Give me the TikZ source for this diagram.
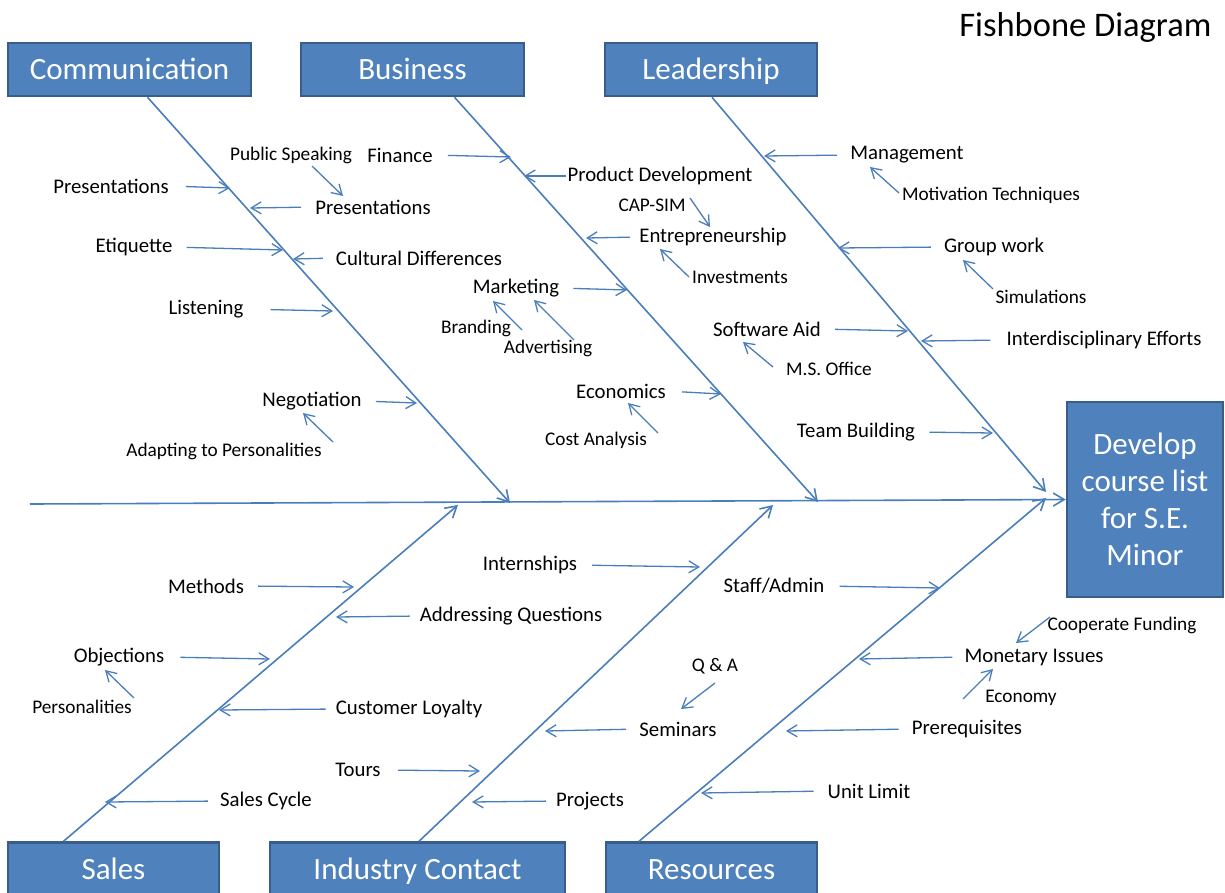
\documentclass[tikz,border=0pt]{standalone}
\usepackage{fontspec}
\setmainfont{Carlito}
\usetikzlibrary{arrows.meta,calc}
\definecolor{boxfill}{RGB}{79,129,189}
\definecolor{boxline}{RGB}{56,93,138}
\definecolor{boneline}{RGB}{74,126,187}

\begin{document}
\begin{tikzpicture}[x=1pt,y=-1pt,
  cat/.style={draw=boxline,line width=2.5pt,fill=boxfill,text=white,
    font=\fontsize{31}{37}\selectfont,minimum height=53pt,inner sep=0pt},
  catlbl/.style={cat,text height=24pt,text depth=4pt},
  lbl/.style={font=\fontsize{20.8}{25}\selectfont,inner sep=0pt},
  sub/.style={font=\fontsize{19.3}{23}\selectfont,inner sep=0pt},
  bone/.style={draw=boneline,line width=1.6pt,-{Straight Barb[length=11pt,width=13pt]}},
  twig/.style={draw=boneline,line width=1.3pt,-{Straight Barb[length=10pt,width=12pt]}}]
  \useasboundingbox (0,0) rectangle (1225,892);

  % Title
  \node[font=\fontsize{34.5}{40}\selectfont,anchor=east] (title) at (1215,27) {Fishbone Diagram};

  % Category boxes
  \node[catlbl,minimum width=243pt] (comm) at (129.5,69.5) {Communication};
  \node[catlbl,minimum width=223pt] (bus) at (412.5,69.5) {Business};
  \node[catlbl,minimum width=212pt] (lead) at (711,69.5) {Leadership};
  \node[catlbl,minimum width=211pt] (sales) at (113.5,869) {Sales};
  \node[catlbl,minimum width=295pt] (ind) at (417.5,869) {Industry Contact};
  \node[catlbl,minimum width=211pt] (res) at (711.5,869) {Resources};

  % Effect
  \node[cat,minimum width=156pt,minimum height=195pt,align=center] (effect) at (1145,499.5)
    {Develop\\course list\\for S.E.\\Minor};

  % Spine and bones
  \coordinate (tail) at (30,504);
  \draw[bone] (tail) -- (effect.west);
  \coordinate (commtip) at (510,503);
  \coordinate (bustip) at (818,502);
  \coordinate (leadtip) at (1046,492);
  \coordinate (salestip) at (458,505);
  \coordinate (indtip) at (773,505);
  \coordinate (restip) at (1046,498);
  \draw[bone] ($(comm.south)+(18,0)$) -- (commtip);
  \draw[bone] ($(bus.south)+(42,0)$) -- (bustip);
  \draw[bone] ($(lead.south)+(1,0)$) -- (leadtip);
  \draw[bone] ($(sales.north)+(-50,0)$) -- (salestip);
  \draw[bone] ($(ind.north)+(1.5,0)$) -- (indtip);
  \draw[bone] ($(res.north)+(-72.5,0)$) -- (restip);

  % Causes
  \foreach \n/\txt/\x/\y in {presA/Presentations/111/186, presB/Presentations/373/207,
      etiq/Etiquette/134/247, cult/Cultural Differences/419/258, listen/Listening/206/309,
      negot/Negotiation/312/401, fin/Finance/400/155, prod/Product Development/660/176,
      entre/Entrepreneurship/713/237, mark/Marketing/516/288, econ/Economics/621/391,
      mgmt/Management/907/155, group/Group work/994/247, soft/Software Aid/767/329,
      inter/Interdisciplinary Efforts/1104/340, team/Team Building/856/432,
      meth/Methods/206/586, addr/Addressing Questions/511/616, objc/Objections/119/657,
      loyal/Customer Loyalty/409/709, cycle/Sales Cycle/266/801, intern/Internships/530/565,
      semin/Seminars/678/729, tours/Tours/358/770, proj/Projects/590/801,
      monet/Monetary Issues/1034/657, prereq/Prerequisites/967/729, unit/Unit Limit/869/791}
    \node[lbl] (\n) at (\x,\y) {\txt};
  \node[lbl] (staff) at (774,586) {Staff/Admin};

  % Sub-causes
  \foreach \n/\txt/\x/\y in {pubsp/Public Speaking/291/155, adapt/Adapting to Personalities/224/451,
      capsim/CAP-SIM/652/205, invest/Investments/740/277, brand/Branding/476/328,
      advert/Advertising/548/348, cost/Cost Analysis/596/440, motiv/Motivation Techniques/991/195,
      simul/Simulations/1041/297, msoff/M.S. Office/829/369, persn/Personalities/82/707,
      qanda/Q \& A/715/666, coopf/Cooperate Funding/1122/625, econy/Economy/1021/698}
    \node[sub] (\n) at (\x,\y) {\txt};

  % Arrows into the bones
  \foreach \n/\s/\x/\y/\g in {presA/east/230/188/17, presB/west/250/208/14, etiq/east/283/250/14,
      cult/west/293/259/13, listen/east/333/311/27, negot/east/417/403/14, fin/east/511/157/15,
      prod/west/524/176/1, entre/west/586/238/9, mark/east/627/290/14, econ/east/721/394/16,
      mgmt/west/764/156/13, group/west/838/248/13, soft/east/908/331/14, inter/west/921/341/16,
      team/east/993/433/14, meth/east/354/587/14, addr/west/336/617/10, objc/east/270/659/16,
      loyal/west/219/710/10, cycle/west/105/802/12, intern/east/700/567/15, semin/west/545/731/13,
      tours/east/480/771/17, proj/west/472/802/10, staff/east/940/588/15, monet/west/859/659/12,
      prereq/west/786/731/13, unit/west/701/793/14} {
    \coordinate (\n tip) at (\x,\y);
    \draw[twig,shorten <=\g] (\n.\s) -- (\n tip);
  }

  % Arrows from sub-causes
  \foreach \a/\ax/\ay/\b/\bx/\by in {pubsp/21/11/presB/-30/-11, adapt/109/-9/negot/-9/12,
      capsim/38/-7/entre/-3/-10, invest/-51/0/entre/-53/12, brand/46/2/mark/-23/13,
      advert/26/-8/mark/18/12, cost/62/-7/econ/7/12, motiv/-92/-2/mgmt/-37/12,
      simul/-48/-8/group/-31/13, msoff/-56/-2/soft/-24/13, persn/52/-9/objc/-14/13,
      qanda/0/17/semin/3/-20, coopf/-72/-8/monet/-18/-14, econy/-58/1/monet/-41/12}
    \draw[twig] ($(\a)+(\ax,\ay)$) -- ($(\b)+(\bx,\by)$);
\end{tikzpicture}
\end{document}
